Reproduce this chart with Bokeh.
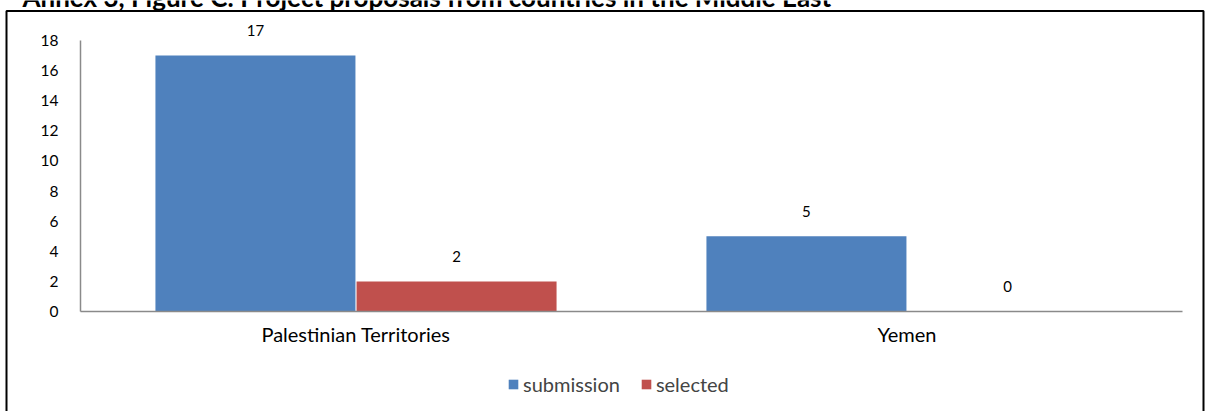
import numpy as np
from bokeh.plotting import figure
from bokeh.models import (ColumnDataSource, Range1d, Legend, LegendItem, LabelSet,
                          BoxAnnotation, FixedTicker, Label)
from bokeh.core.properties import value
from bokeh.embed import file_html
from bokeh.resources import INLINE

# ---- data ----
countries = ["Palestinian Territories", "Yemen"]
submission = [17, 5]
selected = [2, 0]
series_names = ["submission", "selected"]
y_ticks = [0, 2, 4, 6, 8, 10, 12, 14, 16, 18]
title_text = "Annex 3, Figure C: Project proposals from countries in the Middle East"

FONT = "Lato"
BLUE = "#4F81BD"
RED = "#C0504D"

W, H = 1205, 411
# pixel geometry of the plot area (canvas px)
X0, XU = 80, 551.0           # left of first category, px per category
Y0, YU = 311, 271.0 / 18     # baseline, px per unit


def dx(px):
    return (px - X0) / XU


def dy(py):
    return (Y0 - py) / YU


idx = np.arange(len(countries))
bw = 0.363
off = 0.1825
src = ColumnDataSource(data=dict(
    x_sub=idx + 0.5 - off,
    x_sel=idx + 0.5 + off,
    submission=submission,
    selected=selected,
    sub_txt=[str(v) for v in submission],
    sel_txt=[str(v) for v in selected],
))

p = figure(
    x_range=Range1d(dx(0), dx(W)),
    y_range=Range1d(dy(H), dy(0)),
    width=W, height=H,
    output_backend="svg", toolbar_location=None,
    min_border=0,
)
p.background_fill_color = "white"
p.border_fill_color = "white"
p.outline_line_color = None
p.xgrid.visible = False
p.ygrid.visible = False

# outer frame of the chart area (left, top, right; bottom lies outside)
p.add_layout(BoxAnnotation(left=dx(6), right=dx(1203), top=dy(10.5), bottom=dy(H + 40),
                           fill_alpha=0, line_color="black", line_alpha=1.0, line_width=2))

# partially visible heading above the frame (cut at the top as in the source)
p.add_layout(Label(x=dx(22), y=dy(-4), text=title_text, text_font=FONT,
                   text_font_style="bold", text_font_size="26px",
                   text_baseline="alphabetic", text_align="left", text_color="#000000"))

r1 = p.vbar(x="x_sub", top="submission", width=bw, source=src,
            fill_color=BLUE, line_color=None)
r2 = p.vbar(x="x_sel", top="selected", width=bw, source=src,
            fill_color=RED, line_color=None)

for xc, col, txt in (("x_sub", "submission", "sub_txt"), ("x_sel", "selected", "sel_txt")):
    p.add_layout(LabelSet(x=xc, y=col, text=txt, source=src,
                          text_align="center", text_baseline="middle",
                          y_offset=25, text_font=value(FONT), text_font_size="15px",
                          text_color="#000000"))

# axes
p.xaxis.fixed_location = 0
p.yaxis.fixed_location = 0
p.xaxis.bounds = (0, len(countries))
p.yaxis.bounds = (y_ticks[0], y_ticks[-1])
p.yaxis.ticker = FixedTicker(ticks=y_ticks)
p.xaxis.ticker = FixedTicker(ticks=list(idx + 0.5))
p.xaxis.major_label_overrides = {float(i + 0.5): c for i, c in zip(idx, countries)}
for ax in (p.xaxis, p.yaxis):
    ax.axis_line_color = "#8a8a8a"
    ax.axis_line_width = 1.5
    ax.major_tick_line_color = None
    ax.minor_tick_line_color = None
    ax.major_tick_out = 0
    ax.major_tick_in = 0
    ax.minor_tick_out = 0
    ax.major_label_text_font = FONT
    ax.major_label_text_color = "#000000"
p.yaxis.major_label_text_font_size = "15.5px"
p.xaxis.major_label_text_font_size = "20px"
p.yaxis.major_label_standoff = 22
p.xaxis.major_label_standoff = 10

legend = Legend(items=[LegendItem(label=series_names[0], renderers=[r1]),
                       LegendItem(label=series_names[1], renderers=[r2])],
                orientation="horizontal", location=(507, 15),
                label_text_font=FONT, label_text_font_size="20px",
                glyph_width=12, glyph_height=12, spacing=20,
                border_line_color=None, background_fill_alpha=0,
                padding=0, margin=0, label_standoff=4)
p.add_layout(legend, "center")

open("out.html", "w").write(file_html(p, INLINE))
